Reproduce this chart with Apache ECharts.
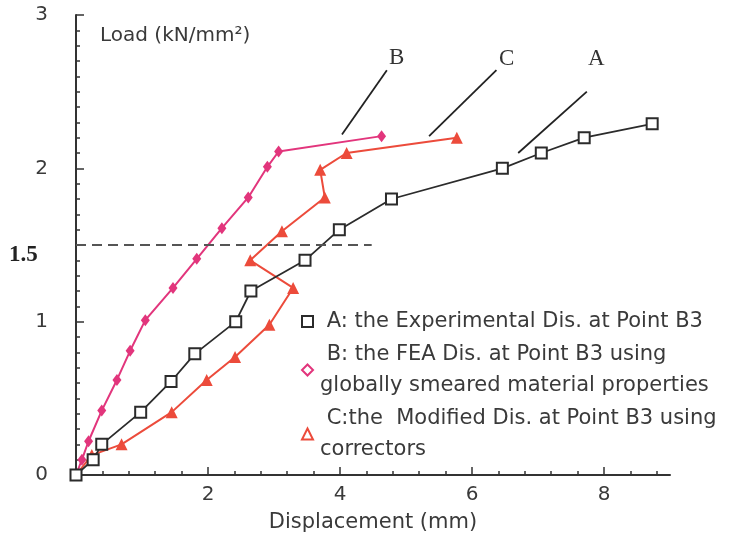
<!DOCTYPE html>
<html>
<head>
<meta charset="utf-8">
<script src="https://cdn.jsdelivr.net/npm/echarts@6/dist/echarts.min.js"></script>
<style>html,body{margin:0;padding:0;background:#fff;}#c{width:736px;height:536px;}</style>
</head>
<body>
<div id="c"></div>
<script>
// Series A: experimental
var xA = [0, 0.26, 0.39, 0.98, 1.44, 1.80, 2.42, 2.65, 3.47, 3.99, 4.78, 6.46, 7.05, 7.70, 8.73];
var yA = [0, 0.10, 0.20, 0.41, 0.61, 0.79, 1.00, 1.20, 1.40, 1.60, 1.80, 2.00, 2.10, 2.20, 2.29];
// Series B: FEA
var xB = [0, 0.09, 0.19, 0.39, 0.62, 0.82, 1.05, 1.47, 1.83, 2.21, 2.61, 2.90, 3.07, 4.63];
var yB = [0, 0.10, 0.22, 0.42, 0.62, 0.81, 1.01, 1.22, 1.41, 1.61, 1.81, 2.01, 2.11, 2.21];
// Series C: modified
var xC = [0, 0.24, 0.69, 1.45, 1.98, 2.41, 2.93, 3.29, 2.64, 3.12, 3.77, 3.70, 4.10, 5.77];
var yC = [0, 0.13, 0.20, 0.41, 0.62, 0.77, 0.98, 1.22, 1.40, 1.59, 1.81, 1.99, 2.10, 2.20];

var nameA = ' A: the Experimental Dis. at Point B3';
var nameB = ' B: the FEA Dis. at Point B3 using\nglobally smeared material properties';
var nameC = ' C:the  Modified Dis. at Point B3 using\ncorrectors';

var xMajorTicks = [0, 2, 4, 6, 8];
var xTickLabels = [2, 4, 6, 8];
var xMinorTicks = [0.4, 0.8, 1.2, 1.6, 2.4, 2.8, 3.2, 3.6, 4.4, 4.8, 5.2, 5.6, 6.4, 6.8, 7.2, 7.6, 8.4, 8.8];
var yTickLabels = [0, 1, 2, 3];
var refLoad = 1.5;

function pairs(xs, ys) { return xs.map(function (x, i) { return [x, ys[i]]; }); }

var FONT = 'DejaVu Sans';
var TXT = '#3a3a3a';
var colA = '#2b2b2b', colB = '#e2357c', colC = '#ec4b3b';

var chart = echarts.init(document.getElementById('c'), null, { renderer: 'canvas' });
chart.setOption({
  backgroundColor: '#ffffff',
  animation: false,
  grid: { left: 76, right: 66, top: 15, bottom: 61, outerBoundsMode: 'none', containLabel: false },
  xAxis: [
    {
      type: 'value', min: 0, max: 9, interval: 2,
      axisLine: { show: true, lineStyle: { color: '#333', width: 2 } },
      axisTick: { show: true, inside: true, length: 8, customValues: xMajorTicks, lineStyle: { color: '#333', width: 1.5 } },
      axisLabel: {
        show: true, margin: 10, fontFamily: FONT, fontSize: 20, color: TXT,
        customValues: xTickLabels
      },
      splitLine: { show: false },
      name: 'Displacement (mm)', nameLocation: 'middle', nameGap: 37,
      nameTextStyle: { fontFamily: FONT, fontSize: 21, color: TXT }
    },
    {
      type: 'value', min: 0, max: 9, interval: 2, position: 'bottom',
      axisLine: { show: false },
      axisTick: { show: true, inside: true, length: 4, customValues: xMinorTicks, lineStyle: { color: '#333', width: 1.5 } },
      axisLabel: { show: false },
      splitLine: { show: false }
    }
  ],
  yAxis: {
    type: 'value', min: 0, max: 3, interval: 1,
    axisLine: { show: true, lineStyle: { color: '#333', width: 2 } },
    axisTick: { show: true, inside: true, length: 8, lineStyle: { color: '#333', width: 1.5 } },
    minorTick: { show: true, splitNumber: 10, length: 4, lineStyle: { color: '#333', width: 1.5 } },
    axisLabel: {
      show: true, margin: 28, fontFamily: FONT, fontSize: 20, color: TXT,
      formatter: function (v) { return yTickLabels.indexOf(v) >= 0 ? String(v) : ''; }
    },
    splitLine: { show: false }
  },
  legend: {
    orient: 'vertical', left: 296, top: 301,
    itemWidth: 11, itemHeight: 11, itemGap: 2,
    textStyle: { fontFamily: FONT, fontSize: 21, color: TXT, lineHeight: 31, padding: [0, 0, 0, 2] },
    data: [
      { name: nameA, icon: 'rect', itemStyle: { color: '#fff', borderColor: colA, borderWidth: 2 } },
      { name: nameB, icon: 'diamond', itemStyle: { color: '#fff', borderColor: colB, borderWidth: 2 } },
      { name: nameC, icon: 'triangle', itemStyle: { color: '#fff', borderColor: colC, borderWidth: 2 } }
    ]
  },
  series: [
    {
      name: nameB, type: 'line',
      data: pairs(xB, yB),
      symbol: 'diamond', symbolSize: [9, 12],
      lineStyle: { color: colB, width: 2 },
      itemStyle: { color: colB },
      z: 3
    },
    {
      name: nameC, type: 'line',
      data: pairs(xC, yC),
      symbol: 'triangle', symbolSize: 12,
      lineStyle: { color: colC, width: 2 },
      itemStyle: { color: colC },
      z: 3
    },
    {
      name: nameA, type: 'line',
      data: pairs(xA, yA),
      symbol: 'rect', symbolSize: 11,
      lineStyle: { color: colA, width: 1.8 },
      itemStyle: { color: '#fff', borderColor: colA, borderWidth: 2 },
      z: 4,
      markLine: {
        silent: true, symbol: 'none', label: { show: false },
        lineStyle: { color: '#222', width: 1.8, type: 'solid' },
        data: [
          [{ coord: [4.71, 2.64] }, { coord: [4.03, 2.22] }],
          [{ coord: [6.37, 2.64] }, { coord: [5.35, 2.21] }],
          [{ coord: [7.74, 2.50] }, { coord: [6.70, 2.10] }],
          [{ coord: [0, refLoad], lineStyle: { color: '#555', width: 2, type: [10, 6] } }, { coord: [4.48, refLoad] }]
        ]
      }
    }
  ],
  graphic: [
    { type: 'text', left: 100, top: 26, style: { text: 'Load (kN/mm²)', font: '20px "DejaVu Sans"', fill: TXT } },
    { type: 'text', left: 9, top: 244, style: { text: '1.5', font: 'bold 23px "Liberation Serif"', fill: '#222' } },
    { type: 'text', left: 389, top: 46, style: { text: 'B', font: '23px "Liberation Serif"', fill: '#333' } },
    { type: 'text', left: 499, top: 47, style: { text: 'C', font: '23px "Liberation Serif"', fill: '#333' } },
    { type: 'text', left: 588, top: 47, style: { text: 'A', font: '23px "Liberation Serif"', fill: '#333' } }
  ]
});
</script>
</body>
</html>
